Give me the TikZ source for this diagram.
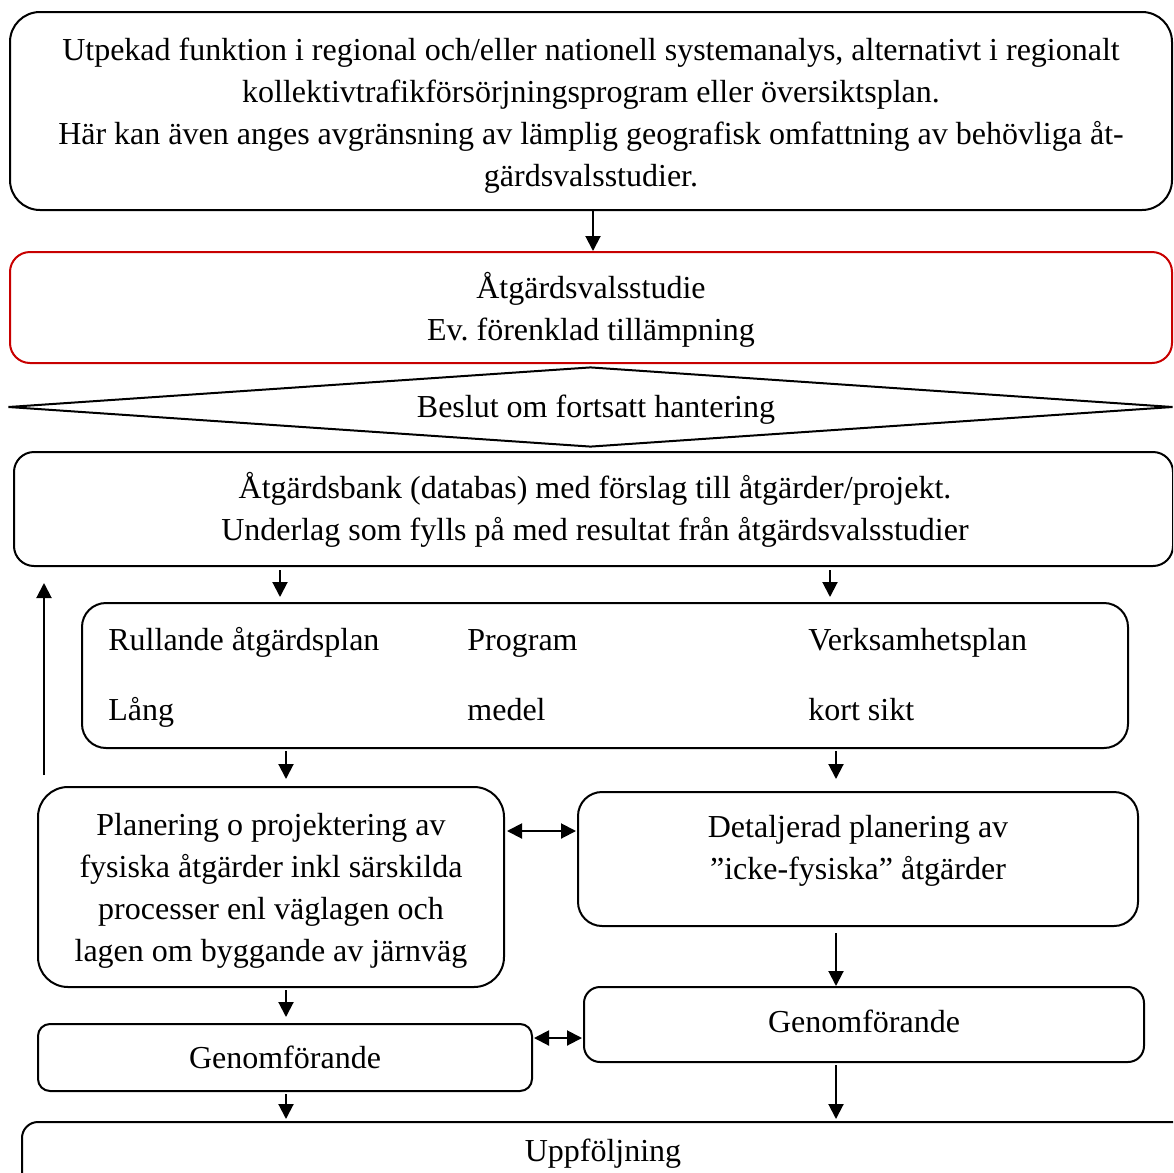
\documentclass[tikz,border=0pt]{standalone}
\usepackage{fontspec}
\setmainfont{Liberation Serif}
\usetikzlibrary{shapes.geometric,arrows.meta,calc}
\definecolor{boxred}{RGB}{200,0,0}
\frenchspacing
\begin{document}
\begin{tikzpicture}[x=0.5pt,y=-0.5pt,
  box/.style={draw, line width=1pt, rounded corners=#1, inner sep=0pt, rectangle},
  box/.default=10pt,
  txt/.style={font=\fontsize{16pt}{21pt}\selectfont, align=center, inner sep=0pt},
  ltxt/.style={font=\fontsize{16pt}{21pt}\selectfont, inner sep=0pt, anchor=base west},
  arr/.style={line width=1pt, -{Triangle[length=7.5pt,width=7.5pt]}},
  darr/.style={line width=1pt, {Triangle[length=7.5pt,width=7.5pt]}-{Triangle[length=7.5pt,width=7.5pt]}}]
\useasboundingbox (0,0) rectangle (1173,1173);
\clip (0,0) rectangle (1173,1173);

% boxes
\node[box=15pt, minimum width=581pt, minimum height=99pt] (top) at (591,111) {};
\node[txt] (topT) at (591,116) {Utpekad funktion i regional och/eller nationell systemanalys, alternativt i regionalt\\
kollektivtrafikförsörjningsprogram eller översiktsplan.\\
Här kan även anges avgränsning av lämplig geografisk omfattning av behövliga åt-\\
gärdsvalsstudier.};

\node[box=10pt, draw=boxred, minimum width=581pt, minimum height=55.5pt] (avs) at (591,307.5) {};
\node[txt] (avsT) at (591,310) {Åtgärdsvalsstudie\\Ev. förenklad tillämpning};

\node[draw, line width=1pt, diamond, aspect=14, inner sep=0pt, minimum width=582.5pt, minimum height=40pt] (beslut) at (590.5,407) {};
\node[txt] (beslutT) at (596,410) {Beslut om fortsatt hantering};

\node[box=10pt, minimum width=579.5pt, minimum height=57pt] (bank) at (593.5,509) {};
\node[txt] (bankT) at (595,510) {Åtgärdsbank (databas) med förslag till åtgärder/projekt.\\
Underlag som fylls på med resultat från åtgärdsvalsstudier};

\node[box=12pt, minimum width=523pt, minimum height=72.5pt] (rull) at (605,675.5) {};
\node[ltxt] (r1) at (108,650) {Rullande åtgärdsplan};
\node[ltxt] (r2) at (467,650) {Program};
\node[ltxt] (r3) at (808,650) {Verksamhetsplan};
\node[ltxt] (r4) at (108,720) {Lång};
\node[ltxt] (r5) at (467,720) {medel};
\node[ltxt] (r6) at (808,720) {kort sikt};

\node[box=15pt, minimum width=233pt, minimum height=100pt] (plan) at (271,887) {};
\node[txt] (planT) at (271,891) {Planering o projektering av\\fysiska åtgärder inkl särskilda\\processer enl väglagen och\\lagen om byggande av järnväg};

\node[box=12pt, minimum width=280pt, minimum height=67pt] (det) at (858,859) {};
\node[txt] (detT) at (858,851) {Detaljerad planering av\\”icke-fysiska” åtgärder};

\node[box=8pt, minimum width=280pt, minimum height=37.5pt] (genR) at (864,1024.5) {};
\node[txt] (genRT) at (864,1021) {Genomförande};

\node[box=6pt, minimum width=247pt, minimum height=33.5pt] (genL) at (285,1057.5) {};
\node[txt] (genLT) at (285,1057) {Genomförande};

\node[box=8pt, minimum width=584pt, minimum height=50pt] (upf) at (606,1172) {};
\node[txt] (upfT) at (603,1154) {Uppföljning};

% helper positions
\coordinate (xm) at (593,0);
\coordinate (xa) at (280,0);
\coordinate (xb) at (830,0);
\coordinate (xc) at (286,0);
\coordinate (xd) at (836,0);
\coordinate (ya) at (0,831);
\coordinate (yb) at (0,1038);
\coordinate (upS) at (44,775);
\coordinate (upE) at (44,583);

% connectors
\draw[arr] (top.south -| xm) -- (avs.north -| xm);
\draw[arr] ([yshift=-1.5pt]bank.south -| xa) -- ([yshift=2.5pt]rull.north -| xa);
\draw[arr] ([yshift=-1.5pt]bank.south -| xb) -- ([yshift=2.5pt]rull.north -| xb);
\draw[arr] ([yshift=-1pt]rull.south -| xc) -- ([yshift=3.5pt]plan.north -| xc);
\draw[arr] ([yshift=-1pt]rull.south -| xd) -- ([yshift=6pt]det.north -| xd);
\draw[darr] ([xshift=1pt]plan.east |- ya) -- ([xshift=-0.5pt]det.west |- ya);
\draw[arr] ([yshift=-3pt]det.south -| xd) -- (genR.north -| xd);
\draw[arr] ([yshift=-1pt]plan.south -| xc) -- ([yshift=3pt]genL.north -| xc);
\draw[darr] ([xshift=0.5pt]genL.east |- yb) -- ([xshift=-0.5pt]genR.west |- yb);
\draw[arr] ([yshift=-1pt]genL.south -| xc) -- ([yshift=1pt]upf.north -| xc);
\draw[arr] ([yshift=-1pt]genR.south -| xd) -- ([yshift=1pt]upf.north -| xd);
\draw[arr] (upS) -- (upE);
\end{tikzpicture}
\end{document}
